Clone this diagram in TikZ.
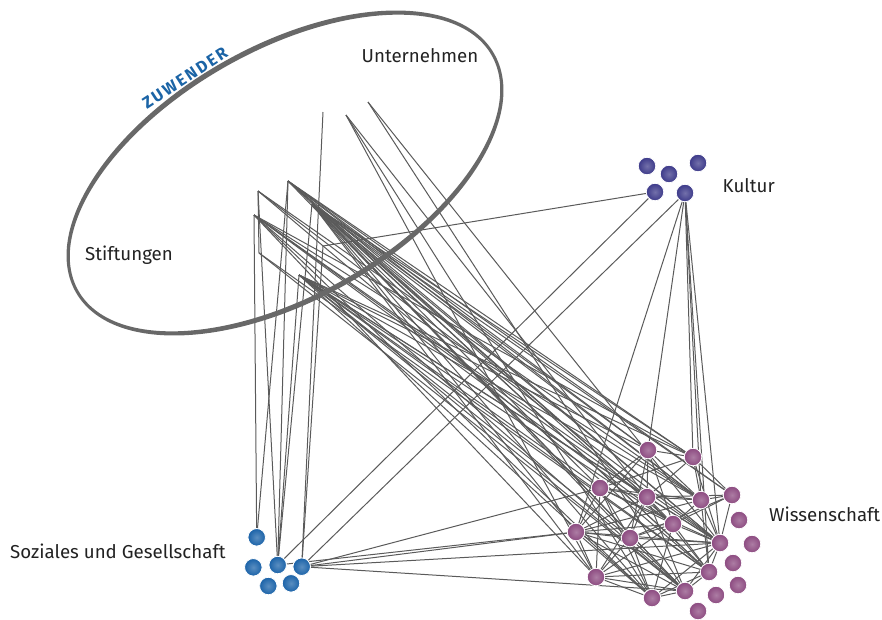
\documentclass[tikz,border=0pt]{standalone}
\usepackage{fontspec}
\setmainfont{Fira Sans}
\newfontfamily\zuwfont[LetterSpace=13]{Fira Sans}
\definecolor{edgec}{HTML}{5A5A5A}
\definecolor{ellc}{HTML}{686868}
\definecolor{zuwc}{HTML}{1B64A6}
\definecolor{kulc}{HTML}{3C3989}
\definecolor{wisc}{HTML}{8C4A80}
\definecolor{sozc}{HTML}{1A62A8}
\definecolor{txtc}{HTML}{222222}
\pgfdeclarelayer{bg}
\pgfsetlayers{bg,main}
\begin{document}
\begin{tikzpicture}[x=1pt,y=-1pt,
  edge/.style={draw=edgec, line width=1pt},
  dot/.style={circle, minimum size=17.5pt, inner sep=0pt, draw=white, line width=0.8pt},
  kul/.style={dot, inner color=kulc!72!white, outer color=kulc},
  wis/.style={dot, inner color=wisc!72!white, outer color=wisc},
  soz/.style={dot, inner color=sozc!72!white, outer color=sozc},
  lab/.style={font=\fontsize{18.7}{20}\selectfont, text=txtc, anchor=base west, inner sep=0pt}]
\useasboundingbox (0,0) rectangle (882,619);

% Zuwender ellipse
\begin{scope}[shift={(285,173)}, rotate=29.7]
  \fill[ellc, even odd rule] (0,0) ellipse [x radius=240.8pt, y radius=127pt]
                             (0,0) ellipse [x radius=237.8pt, y radius=121.8pt];
\end{scope}
\node[rotate=33, anchor=base, text=zuwc, inner sep=0pt,
      font=\zuwfont\bfseries\fontsize{16.5}{16.5}\selectfont] (zuw) at (188,83) {ZUWENDER};

% donor coordinates
\coordinate (s1) at (323,112);
\coordinate (s2) at (346,115);
\coordinate (s3) at (368,102);
\coordinate (s4) at (258,191);
\coordinate (s5) at (288,181);
\coordinate (s6) at (254,215);
\coordinate (s7) at (312,204);
\coordinate (s8) at (259,253);
\coordinate (s9) at (299,275);
\coordinate (s10) at (323,246);

% Kultur
\node[kul] (k1) at (647,166) {};
\node[kul] (k2) at (669,174) {};
\node[kul] (k3) at (698,163) {};
\node[kul] (k4) at (655,192) {};
\node[kul] (k5) at (685,193) {};

% Soziales
\node[soz] (z1) at (256.7,537.3) {};
\node[soz] (z2) at (253.3,567.3) {};
\node[soz] (z3) at (277.7,565) {};
\node[soz] (z4) at (301.7,566.7) {};
\node[soz] (z5) at (268.3,586) {};
\node[soz] (z6) at (291,583.3) {};

% Wissenschaft
\node[wis] (w1) at (648,450) {};
\node[wis] (w2) at (693,457) {};
\node[wis] (w3) at (600,488) {};
\node[wis] (w4) at (647,497) {};
\node[wis] (w5) at (701,500) {};
\node[wis] (w6) at (732,495) {};
\node[wis] (w7) at (739,520) {};
\node[wis] (w8) at (673,524) {};
\node[wis] (w9) at (576,532) {};
\node[wis] (w10) at (630,538) {};
\node[wis] (w11) at (720,543) {};
\node[wis] (w12) at (752,544) {};
\node[wis] (w13) at (733,563) {};
\node[wis] (w14) at (709,572) {};
\node[wis] (w15) at (596,577) {};
\node[wis] (w16) at (738,585) {};
\node[wis] (w17) at (685,591) {};
\node[wis] (w18) at (716,595) {};
\node[wis] (w19) at (652,598) {};
\node[wis] (w20) at (698,611) {};

% labels
\node[lab] (lu) at (361.5,62.3) {Unternehmen};
\node[lab] (ls) at (85,260) {Stiftungen};
\node[lab] (lk) at (722.5,192.3) {Kultur};
\node[lab] (lw) at (769,521) {Wissenschaft};
\node[lab] (lz) at (10,558) {Soziales und Gesellschaft};

\begin{pgfonlayer}{bg}
% Kultur links
\foreach \a/\b in {k4/s10,k4/z3,k5/z4,k5/w9,k5/w1,k5/w2,k5/w5,k5/w14,k5/w11}
  \draw[edge] (\a) -- (\b);
% donors to Soziales
\foreach \a/\b in {s6/z1,s5/z1,s4/z3,s5/z3,s7/z3,s9/z3,s1/z4,s10/z4,s4/s8}
  \draw[edge] (\a) -- (\b);
% Soziales to Wissenschaft
\foreach \a/\b in {z4/w9,z3/w9,z4/w3,z4/w11,z4/w17}
  \draw[edge] (\a) -- (\b);
% donors to Wissenschaft
\foreach \b in {w1,w2,w3,w4,w5,w6,w8,w9,w10,w11,w14,w15,w17,w19}
  \draw[edge] (s7) -- (\b);
\foreach \b in {w1,w2,w4,w5,w6,w11,w14,w17}
  \draw[edge] (s5) -- (\b);
\foreach \b in {w2,w4,w5,w8,w15,w17,w11,w19}
  \draw[edge] (s6) -- (\b);
\foreach \b in {w1,w2,w3,w4,w5,w8,w10,w11,w14,w17,w19}
  \draw[edge] (s9) -- (\b);
\foreach \a/\b in {s4/w5,s4/w11,s4/w14,s8/w14,s8/w17,s2/w15,s2/w4,s2/w19,s3/w17,s3/w11}
  \draw[edge] (\a) -- (\b);
% within Wissenschaft
\foreach \a/\b in {w1/w3,w1/w4,w1/w5,w1/w9,w1/w10,w1/w2,w1/w8,
  w2/w4,w2/w5,w2/w6,w2/w11,w2/w3,
  w3/w4,w3/w5,w3/w9,w3/w10,w3/w15,w3/w8,w3/w11,w3/w19,
  w4/w5,w4/w6,w4/w8,w4/w9,w4/w10,w4/w11,w4/w15,w4/w17,w4/w14,
  w5/w6,w5/w8,w5/w11,w5/w14,w5/w9,
  w6/w8,w6/w11,w6/w10,
  w8/w9,w8/w10,w8/w11,w8/w14,w8/w15,w8/w19,
  w9/w10,w9/w15,w9/w19,w9/w11,w9/w14,w9/w17,
  w10/w15,w10/w19,w10/w17,w10/w11,
  w11/w14,w11/w15,w11/w17,w11/w19,
  w14/w17,w14/w19,w14/w15,w15/w19,w15/w17,w17/w19}
  \draw[edge] (\a) -- (\b);
\end{pgfonlayer}
\end{tikzpicture}
\end{document}
